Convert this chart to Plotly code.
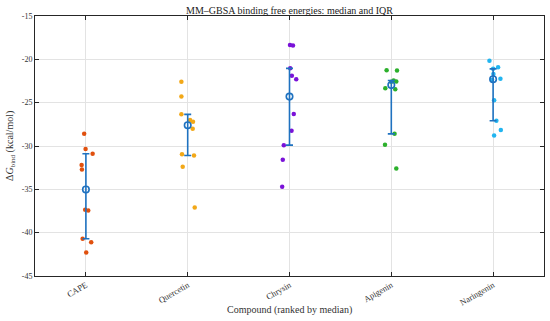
import numpy as np
import plotly.graph_objects as go

compounds = ["CAPE", "Quercetin", "Chrysin", "Apigenin", "Naringenin"]
colors = ["#E0500E", "#F2A818", "#7A12D8", "#2CB02C", "#22B5F0"]

cape = [-28.6, -30.35, -30.9, -32.2, -32.7, -37.35, -37.45, -40.7, -41.1, -42.3]
quercetin = [-22.6, -24.3, -26.35, -27.0, -27.2, -28.0, -30.96, -31.1, -32.4, -37.1]
chrysin = [-18.35, -18.4, -21.04, -21.9, -22.3, -26.3, -28.23, -29.9, -31.6, -34.7]
apigenin = [-21.25, -21.3, -22.45, -22.55, -22.6, -23.35, -23.45, -28.6, -29.85, -32.6]
naringenin = [-20.15, -20.9, -21.1, -21.7, -22.25, -22.35, -24.73, -27.08, -28.15, -28.8]

# horizontal jitter (category units) of each point
jit_cape = [-0.017, -0.003, 0.066, -0.042, -0.039, -0.007, 0.023, -0.032, 0.052, 0.003]
jit_quercetin = [-0.062, -0.062, -0.062, 0.023, 0.052, 0.049, -0.056, 0.062, -0.049, 0.069]
jit_chrysin = [0.005, 0.034, 0.007, 0.023, 0.066, 0.042, 0.02, -0.056, -0.066, -0.072]
jit_apigenin = [-0.046, 0.056, 0.023, 0.049, 0.0, -0.059, 0.039, 0.032, -0.062, 0.049]
jit_naringenin = [-0.036, 0.049, 0.0, 0.003, 0.072, -0.01, 0.01, 0.032, 0.076, 0.01]

y_ticks = [-45, -40, -35, -30, -25, -20, -15]

series = [cape, quercetin, chrysin, apigenin, naringenin]
jitters = [jit_cape, jit_quercetin, jit_chrysin, jit_apigenin, jit_naringenin]

FONT = "Liberation Serif"
AX = "#262626"
W, H = 550, 321
ML, MR, MT, MB = 35, 6, 16, 45
fig = go.Figure()

for i, (vals, jit, col) in enumerate(zip(series, jitters, colors)):
    xs = [i + 1 + j for j in jit]
    fig.add_trace(go.Scatter(x=xs, y=vals, mode="markers",
                             marker=dict(color=col, size=4.5, line=dict(width=0)),
                             showlegend=False, hoverinfo="y"))

med, q1, q3 = [], [], []
for vals in series:
    a = np.array(vals)
    med.append(float(np.median(a)))
    q1.append(float(np.percentile(a, 25, method="hazen")))
    q3.append(float(np.percentile(a, 75, method="hazen")))

xpos = list(range(1, len(compounds) + 1))
fig.add_trace(go.Scatter(
    x=xpos, y=med, mode="markers",
    marker=dict(symbol="circle-open", size=6.5, color="#1F72C0", line=dict(width=1.6)),
    error_y=dict(type="data", symmetric=False,
                 array=[b - m for b, m in zip(q3, med)],
                 arrayminus=[m - a for a, m in zip(q1, med)],
                 color="#1F72C0", thickness=1.6, width=3.5),
    showlegend=False))

fig.update_layout(
    width=W, height=H,
    margin=dict(l=ML, r=MR, t=MT, b=MB, autoexpand=False),
    paper_bgcolor="white", plot_bgcolor="white",
    font=dict(family=FONT, size=8, color="#333333"),
    title=dict(text="MM–GBSA binding free energies: median and IQR",
               xref="paper", x=0.5, xanchor="center", y=1 - 10 / H, yanchor="middle",
               font=dict(family=FONT, size=10, color="#222222")),
    annotations=[
        dict(text="Compound (ranked by median)", xref="paper", yref="paper",
             x=0.5, y=-(310 - (H - MB)) / (H - MT - MB), xanchor="center", yanchor="middle",
             showarrow=False, font=dict(family=FONT, size=10, color="#333333")),
        dict(text="Δ<i>G</i><sub>bind</sub> (kcal/mol)", xref="paper", yref="paper",
             x=-(ML - 10) / (W - ML - MR), y=0.5, xanchor="center", yanchor="middle",
             textangle=-90, showarrow=False, font=dict(family=FONT, size=10, color="#333333")),
    ],
)
fig.update_xaxes(range=[0.5, 5.5], tickvals=xpos, ticktext=compounds, tickangle=-30,
                 showgrid=True, gridcolor="#E3E3E3", gridwidth=1,
                 showline=True, linecolor=AX, linewidth=1, mirror="ticks",
                 ticks="inside", ticklen=4, tickcolor=AX, zeroline=False,
                 automargin=False, tickfont=dict(size=8.5))
fig.update_yaxes(range=[-45, -15], tickvals=y_ticks, ticktext=[str(v) for v in y_ticks],
                 showgrid=True, gridcolor="#E3E3E3", gridwidth=1,
                 showline=True, linecolor=AX, linewidth=1, mirror="ticks",
                 ticks="inside", ticklen=4, tickcolor=AX, zeroline=False,
                 automargin=False, tickfont=dict(size=8))

fig.write_html("out.html", config={"displayModeBar": False},
               post_script="document.body.style.margin='0';document.body.style.overflow='hidden';")
